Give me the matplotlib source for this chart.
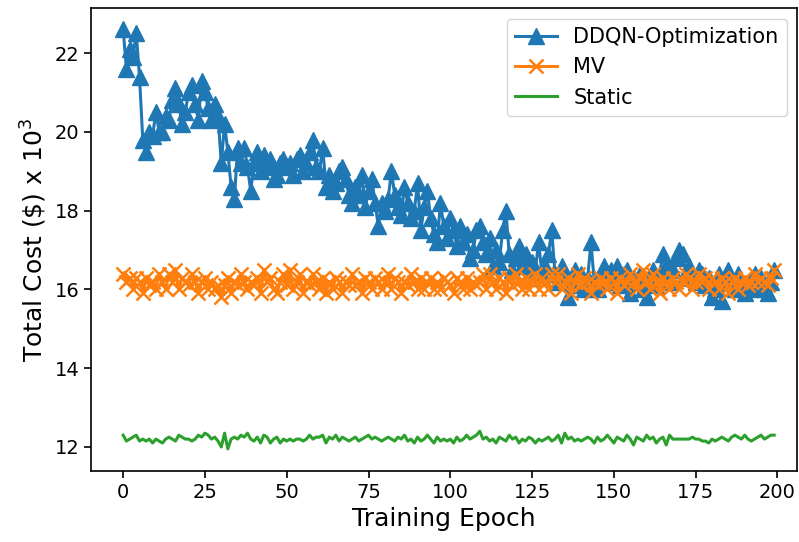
import numpy as np
import matplotlib
matplotlib.use("Agg")
import matplotlib.pyplot as plt

# total cost per training epoch (x 10^3 $)
ddqn = [22.6, 21.6, 22.1, 21.9, 22.5, 21.4, 19.8, 19.5, 20.0, 19.9,
        20.5, 20.0, 20.0, 20.4, 20.3, 20.8, 21.1, 20.7, 20.2, 20.5,
        21.0, 21.2, 20.7, 20.3, 21.3, 21.0, 20.6, 20.3, 20.7, 20.4,
        19.2, 20.2, 19.5, 18.6, 18.3, 19.6, 19.2, 19.6, 19.1, 18.5,
        19.2, 19.5, 19.0, 19.4, 19.1, 19.3, 18.8, 18.9, 19.2, 19.3,
        19.1, 19.2, 18.9, 19.3, 19.4, 19.0, 19.2, 19.5, 19.8, 19.1,
        19.0, 19.6, 18.6, 18.9, 18.5, 18.7, 19.0, 19.1, 18.8, 18.4,
        18.2, 18.6, 18.4, 18.9, 18.1, 18.5, 18.8, 18.2, 17.6, 18.2,
        18.0, 18.3, 19.0, 18.4, 18.1, 17.9, 18.6, 18.2, 17.8, 18.0,
        18.7, 17.5, 18.1, 18.5, 17.8, 17.4, 17.2, 18.2, 17.6, 17.3,
        17.8, 17.5, 17.1, 17.6, 17.2, 17.4, 16.8, 17.0, 17.5, 17.6,
        17.2, 16.9, 17.3, 16.6, 17.0, 16.7, 17.5, 18.0, 16.9, 16.5,
        16.8, 17.1, 16.6, 16.9, 16.3, 16.7, 16.5, 17.2, 16.4, 16.6,
        16.9, 17.5, 16.4, 16.2, 16.6, 16.3, 15.8, 16.2, 16.5, 16.1,
        16.4, 16.0, 16.3, 17.2, 16.2, 16.0, 16.4, 16.6, 16.2, 16.5,
        16.3, 16.6, 16.1, 16.4, 16.5, 15.9, 16.3, 16.2, 16.4, 16.0,
        15.8, 16.2, 16.5, 16.1, 16.4, 16.9, 16.6, 16.2, 16.5, 16.8,
        17.0, 16.9, 16.4, 16.6, 16.3, 16.2, 16.5, 16.4, 16.1, 16.3,
        15.8, 16.0, 16.4, 15.7, 16.3, 16.5, 16.2, 16.0, 16.4, 16.1,
        15.9, 16.2, 16.0, 16.4, 16.1, 16.3, 16.0, 15.9, 16.2, 16.5]

mv = [16.4, 16.2, 16.3, 16.0, 16.3, 16.2, 15.9, 16.3, 16.1, 16.2,
      16.0, 16.4, 16.2, 16.0, 16.4, 16.2, 16.5, 16.0, 16.3, 16.2,
      16.1, 16.4, 16.2, 15.9, 16.2, 16.3, 16.0, 16.2, 16.0, 16.1,
      15.8, 16.1, 16.3, 15.9, 16.2, 16.1, 16.4, 16.2, 16.0, 16.2,
      16.1, 16.3, 15.9, 16.5, 16.2, 16.3, 16.0, 15.9, 16.2, 16.4,
      16.1, 16.5, 16.0, 16.2, 16.4, 15.9, 16.2, 16.1, 16.4, 16.2,
      16.0, 16.3, 15.9, 16.2, 16.0, 16.3, 16.2, 15.9, 16.2, 16.1,
      16.4, 16.1, 16.2, 15.9, 16.3, 16.2, 16.0, 16.3, 16.2, 16.0,
      16.2, 16.4, 16.0, 16.3, 16.2, 15.9, 16.2, 16.1, 16.4, 16.2,
      16.0, 16.3, 16.0, 16.2, 16.3, 16.0, 16.2, 16.0, 16.3, 16.2,
      16.1, 15.9, 16.3, 16.2, 16.0, 16.3, 16.0, 16.2, 16.1, 16.2,
      16.4, 16.0, 16.4, 16.2, 16.0, 16.3, 16.2, 15.9, 16.3, 16.1,
      16.4, 16.2, 16.0, 16.3, 16.0, 16.2, 16.4, 16.0, 16.3, 16.2,
      16.0, 16.4, 16.2, 16.4, 16.0, 16.2, 16.3, 15.9, 16.2, 16.4,
      16.1, 16.3, 16.2, 15.9, 16.2, 16.1, 16.3, 16.2, 16.0, 16.3,
      16.2, 15.9, 16.3, 16.1, 16.2, 16.4, 16.2, 16.0, 16.3, 16.5,
      16.2, 16.0, 16.4, 16.2, 15.9, 16.3, 16.2, 16.0, 16.3, 16.2,
      16.0, 16.2, 16.4, 16.3, 16.0, 16.2, 16.4, 16.2, 16.3, 16.0,
      16.3, 16.2, 16.0, 16.3, 16.2, 15.9, 16.2, 16.3, 16.0, 16.2,
      16.3, 16.1, 16.2, 16.4, 16.2, 16.3, 16.2, 16.1, 16.3, 16.5]

static = [12.3, 12.15, 12.2, 12.25, 12.3, 12.15, 12.2, 12.15, 12.2, 12.1,
          12.2, 12.15, 12.1, 12.2, 12.25, 12.2, 12.15, 12.3, 12.25, 12.2,
          12.2, 12.15, 12.2, 12.3, 12.25, 12.35, 12.3, 12.2, 12.25, 12.15,
          12.0, 12.35, 11.95, 12.2, 12.25, 12.2, 12.3, 12.25, 12.35, 12.2,
          12.15, 12.25, 12.1, 12.3, 12.25, 12.1, 12.2, 12.25, 12.1, 12.2,
          12.15, 12.2, 12.15, 12.2, 12.2, 12.15, 12.2, 12.3, 12.2, 12.25,
          12.25, 12.3, 12.1, 12.25, 12.2, 12.3, 12.15, 12.25, 12.2, 12.15,
          12.2, 12.25, 12.15, 12.2, 12.25, 12.3, 12.2, 12.25, 12.2, 12.15,
          12.2, 12.25, 12.2, 12.15, 12.25, 12.2, 12.3, 12.15, 12.2, 12.1,
          12.25, 12.15, 12.2, 12.3, 12.2, 12.1, 12.25, 12.15, 12.2, 12.15,
          12.2, 12.1, 12.25, 12.15, 12.2, 12.3, 12.2, 12.25, 12.3, 12.4,
          12.2, 12.25, 12.15, 12.2, 12.1, 12.25, 12.2, 12.15, 12.3, 12.2,
          12.25, 12.1, 12.2, 12.15, 12.25, 12.2, 12.1, 12.2, 12.15, 12.2,
          12.25, 12.15, 12.2, 12.3, 12.1, 12.35, 12.2, 12.25, 12.15, 12.2,
          12.15, 12.2, 12.25, 12.2, 12.1, 12.25, 12.15, 12.2, 12.3, 12.2,
          12.1, 12.25, 12.2, 12.15, 12.3, 12.2, 12.05, 12.25, 12.2, 12.15,
          12.3, 12.2, 12.25, 12.1, 12.2, 12.25, 12.05, 12.3, 12.2, 12.2,
          12.2, 12.2, 12.2, 12.2, 12.25, 12.2, 12.2, 12.15, 12.15, 12.1,
          12.2, 12.15, 12.2, 12.25, 12.2, 12.15, 12.25, 12.3, 12.25, 12.2,
          12.3, 12.2, 12.15, 12.2, 12.25, 12.3, 12.2, 12.25, 12.3, 12.3]

epochs = np.arange(len(ddqn))

fig = plt.figure(figsize=(7.99, 5.42), dpi=100)
ax = fig.add_axes([0.114, 0.131, 0.884, 0.854])

ax.plot(epochs, ddqn, marker='^', markersize=11, linewidth=2.2, label='DDQN-Optimization')
ax.plot(epochs, mv, marker='x', markersize=10, markeredgewidth=1.8, linewidth=2.2, label='MV')
ax.plot(epochs, static, linewidth=2.2, label='Static')

ax.set_xlim(-9.8, 206.1)
ax.set_ylim(11.39, 23.14)
ax.set_xticks([0, 25, 50, 75, 100, 125, 150, 175, 200])
ax.set_yticks([12, 14, 16, 18, 20, 22])
ax.tick_params(labelsize=14, width=1.2, length=5)
for s in ax.spines.values():
    s.set_linewidth(1.2)

ax.set_xlabel('Training Epoch', fontsize=18)
ax.set_ylabel(r'Total Cost (\$) x $10^3$', fontsize=18)
ax.legend(loc='upper right', fontsize=15)

fig.savefig('out.png', dpi=100)
